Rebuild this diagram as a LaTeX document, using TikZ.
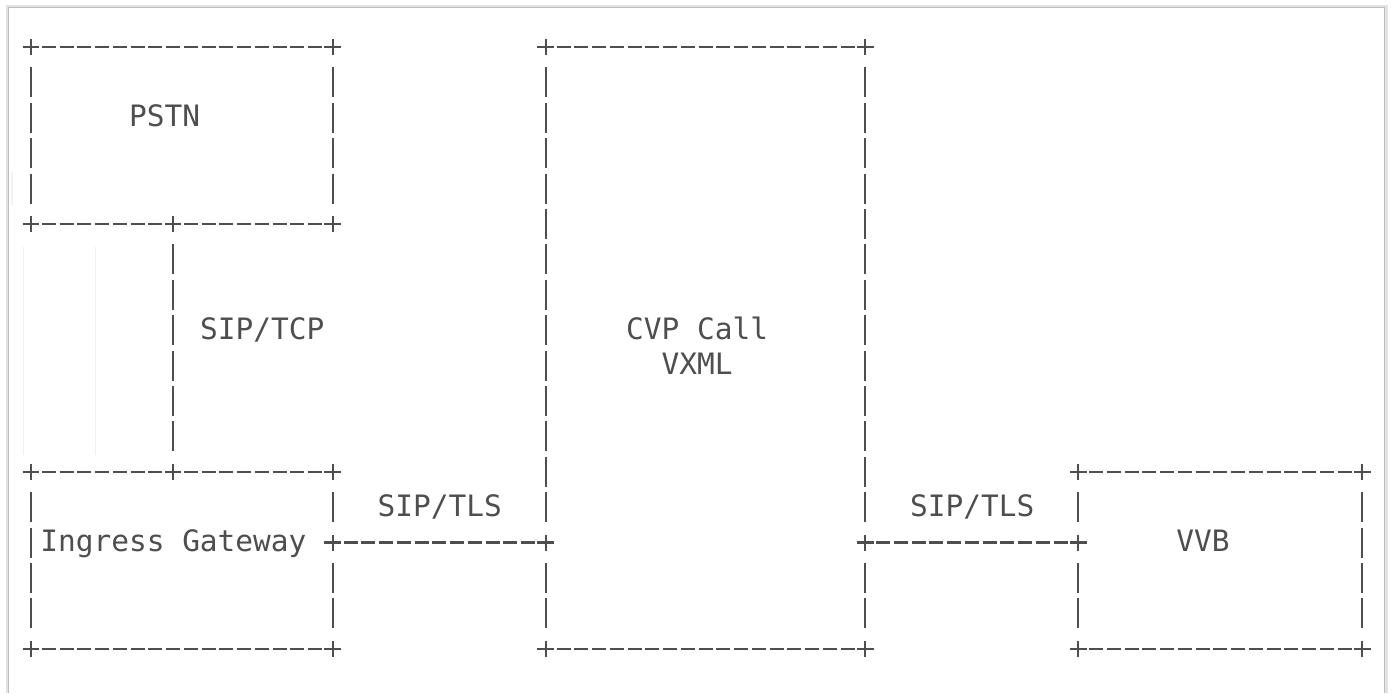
\documentclass[tikz,border=0pt]{standalone}
\usepackage{fontspec}
\newfontfamily\asciifont{DejaVu Sans Mono}
\definecolor{ink}{RGB}{78,78,78}
\definecolor{framegray}{RGB}{190,190,190}
\newcommand\colw{8.875pt}
\newcommand\rowh{17.7pt}
\tikzset{
  hline/.style={ink,line width=1.2pt,dash pattern=on 7pt off 1.875pt,shorten <=5.375pt,shorten >=5.375pt},
  vline/.style={ink,line width=1.2pt,dash pattern=on 15pt off 2.7pt,shorten <=10.2pt,shorten >=10.2pt},
  asciibox/.style 2 args={inner sep=0,outer sep=0,minimum width=#1*\colw,minimum height=#2*\rowh},
  lbl/.style={font=\asciifont\fontsize{14.74pt}{17.7pt}\selectfont,text=ink,inner sep=0,anchor=base west,yshift=-4.45pt},
  crossmark/.pic={\draw[ink,line width=1.2pt] (-4.2pt,0)--(4.2pt,0) (0,-4pt)--(0,4pt);}
}
\begin{document}
\begin{tikzpicture}[x=.5pt,y=-.5pt]
\useasboundingbox (0,0) rectangle (1393,693);
% window frame of the screenshot
\draw[framegray!45,line width=1.5pt] (7,693) -- (7,6) -- (1386,6) -- (1386,693);
\draw[framegray,line width=.8pt] (8.5,693) -- (8.5,7.5) -- (1384.5,7.5) -- (1384.5,693);
\draw[gray!12,line width=.5pt] (23.3,247) -- (23.3,455) (95,247) -- (95,455);
\draw[gray!10,line width=1pt] (12,172) -- (12,205);
\begin{scope}[shift={(15.5pt,-23.5pt)},x=\colw,y=-\rowh]
\node[asciibox={17}{5}] (pstn) at (8.5,2.5) {};
\node[asciibox={17}{5}] (gw) at (8.5,14.5) {};
\node[asciibox={18}{17}] (cvp) at (38,8.5) {};
\node[asciibox={16}{5}] (vvb) at (67,14.5) {};
\path (pstn.south west) ++(8,0) coordinate (tcpa);
\path (tcpa |- gw.north) coordinate (tcpb);
\path (gw.north east) ++(0,2) coordinate (tlsa);
\path (tlsa -| cvp.west) coordinate (tlsa2);
\path (cvp.north east) ++(0,14) coordinate (tlsb);
\path (tlsb -| vvb.west) coordinate (tlsb2);
% dashes
\foreach \a/\b in {pstn.north west/pstn.north east,pstn.south west/tcpa,tcpa/pstn.south east,
  gw.north west/tcpb,tcpb/gw.north east,gw.south west/gw.south east,
  cvp.north west/cvp.north east,cvp.south west/cvp.south east,
  vvb.north west/vvb.north east,vvb.south west/vvb.south east,tlsa/tlsa2,tlsb/tlsb2}
  {\draw[hline] (\a) -- (\b);}
% bars
\foreach \a/\b in {pstn.north west/pstn.south west,pstn.north east/pstn.south east,tcpa/tcpb,
  gw.north west/gw.south west,gw.north east/tlsa,tlsa/gw.south east,
  cvp.north west/tlsa2,tlsa2/cvp.south west,cvp.north east/tlsb,tlsb/cvp.south east,
  vvb.north west/tlsb2,tlsb2/vvb.south west,vvb.north east/vvb.south east}
  {\draw[vline] (\a) -- (\b);}
% corners
\foreach \p in {pstn.north west,pstn.north east,pstn.south west,pstn.south east,
  gw.north west,gw.north east,gw.south west,gw.south east,
  cvp.north west,cvp.north east,cvp.south west,cvp.south east,
  vvb.north west,vvb.north east,vvb.south west,vvb.south east,
  tcpa,tcpb,tlsa,tlsa2,tlsb,tlsb2}
  {\pic at (\p) {crossmark};}
\node[lbl] (lpstn) at (5.5,2) {PSTN};
\node[lbl] (ltcp) at (9.5,8) {SIP/TCP};
\node[lbl] (lgw) at (0.5,14) {Ingress Gateway};
\node[lbl] (ltlsa) at (19.5,13) {SIP/TLS};
\node[lbl] (lcvp) at (33.5,8) {CVP Call};
\node[lbl] (lvxml) at (35.5,9) {VXML};
\node[lbl] (ltlsb) at (49.5,13) {SIP/TLS};
\node[lbl] (lvvb) at (64.5,14) {VVB};
\end{scope}
\end{tikzpicture}
\end{document}
